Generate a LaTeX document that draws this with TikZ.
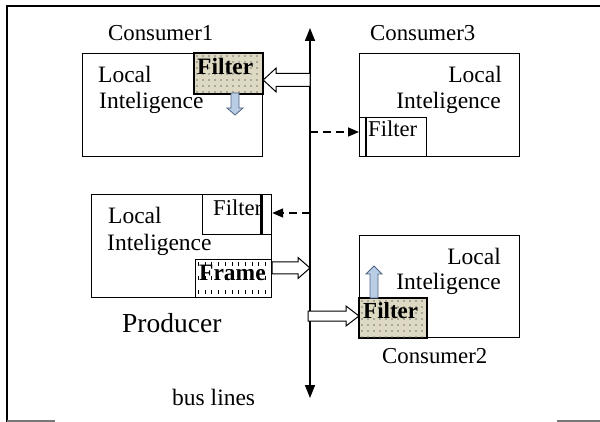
\documentclass[tikz,border=0pt]{standalone}
\usepackage{fontspec}
\setmainfont{Liberation Serif}
\usetikzlibrary{arrows.meta,calc}
\definecolor{filtertan}{RGB}{221,217,195}
\definecolor{dotgray}{RGB}{120,118,110}
\definecolor{flowblue}{RGB}{185,205,229}
\definecolor{flowedge}{RGB}{80,100,130}
\definecolor{edgegray}{RGB}{120,120,120}

\tikzset{
  box/.style={draw=black, line width=1.2pt, fill=white, inner sep=0pt, anchor=north west},
  txt/.style={inner sep=0pt, font=\fontsize{23.5}{26}\selectfont},
  smalltxt/.style={inner sep=0pt, font=\fontsize{22.6}{26}\selectfont},
  bigtxt/.style={inner sep=0pt, font=\fontsize{27.5}{30}\selectfont},
  bus/.style={line width=1.5pt, {Triangle[width=10pt,length=13pt]}-{Triangle[width=10pt,length=13pt]}},
  dasharrow/.style={line width=1.5pt, dash pattern=on 8pt off 5pt, -{Triangle[width=9pt,length=11pt]}},
  whiteflow/.style={draw=black, fill=white, line width=1pt, line join=miter},
  blueflow/.style={draw=flowedge, fill=flowblue, line width=0.8pt, line join=miter},
}

% horizontal block arrow: tail, tip, shaft half width, head half width, head length
\newcommand\hblock[6][]{%
  \draw[#1] let \p1=(#2), \p2=(#3), \n1={(\x2-\x1)/abs(\x2-\x1)} in
    (\x1,{\y1+#4pt}) -- ({\x2-\n1*#6pt},{\y1+#4pt}) -- ({\x2-\n1*#6pt},{\y1+#5pt})
    -- (\x2,\y1) -- ({\x2-\n1*#6pt},{\y1-#5pt}) -- ({\x2-\n1*#6pt},{\y1-#4pt})
    -- (\x1,{\y1-#4pt}) -- cycle;}
% vertical block arrow: tail, tip, shaft half width, head half width, head length
\newcommand\vblock[6][]{%
  \draw[#1] let \p1=(#2), \p2=(#3), \n1={(\y2-\y1)/abs(\y2-\y1)} in
    ({\x1+#4pt},\y1) -- ({\x1+#4pt},{\y2-\n1*#6pt}) -- ({\x1+#5pt},{\y2-\n1*#6pt})
    -- (\x1,\y2) -- ({\x1-#5pt},{\y2-\n1*#6pt}) -- ({\x1-#4pt},{\y2-\n1*#6pt})
    -- ({\x1-#4pt},\y1) -- cycle;}

\begin{document}
\begin{tikzpicture}[x=1pt,y=-1pt]
\useasboundingbox (0,0) rectangle (600,422);

% page frame
\draw[line width=2pt] (600,6) -- (7,6) -- (7,422);
\draw[edgegray, line width=1.5pt] (7,421) -- (55,421);
\draw[edgegray, line width=1.5pt] (557,421) -- (600,421);

% bus
\coordinate (busTop) at (310,28);
\coordinate (busBot) at (310,398);
\draw[bus] (busBot) -- (busTop);
\node[txt, anchor=base west] (buslbl) at (172,405) {bus lines};

% ---------- Consumer1 ----------
\node[box, minimum width=180pt, minimum height=103pt] (c1) at (82,53) {};
\node[box, fill=filtertan, minimum width=68pt, minimum height=40pt] (f1) at (194,53) {};
\begin{scope}
  \clip ($(f1.north west)+(1,1)$) rectangle ($(f1.south east)+(-1,-1)$);
  \foreach \i in {0,...,11} \foreach \j in {0,...,6}
    \fill[dotgray] ($(f1.north west)+(3+6*\i,3+6*\j)$) circle (0.8pt);
\end{scope}
\draw[line width=1.2pt] (f1.north west) rectangle (f1.south east);
\node[txt, anchor=base west, font=\fontsize{23.5}{26}\selectfont\bfseries] (f1t) at (197,75) {Filter};
\node[txt, anchor=base west] (c1l1) at (98,83) {Local};
\node[txt, anchor=base west] (c1l2) at (99,109) {Inteligence};
\node[txt, anchor=base west, font=\fontsize{22.8}{26}\selectfont] (c1n) at (108,41) {Consumer1};
\coordinate (t1) at (310,80);
\hblock[whiteflow]{t1}{t1 -| f1.east}{6.5}{12}{13}
\coordinate (d1) at (235,93);
\coordinate (d1e) at (235,115);
\vblock[blueflow]{d1}{d1e}{4}{8}{7}

% ---------- Consumer3 ----------
\node[box, minimum width=160pt, minimum height=103pt] (c3) at (359,53) {};
\node[box, minimum width=67pt, minimum height=39pt] (f3) at (359,117) {};
\draw[line width=2pt] (366,117) -- (366,156);
\node[smalltxt, anchor=base west] (f3t) at (368,137) {Filter};
\node[txt, anchor=base east] (c3l1) at (502,83) {Local};
\node[txt, anchor=base east] (c3l2) at (501,109) {Inteligence};
\node[txt, anchor=base west, font=\fontsize{22.8}{26}\selectfont] (c3n) at (370,41) {Consumer3};
\coordinate (t3) at (310,132);
\draw[dasharrow] (t3) -- (t3 -| f3.west);

% ---------- Producer ----------
\node[box, minimum width=180pt, minimum height=103pt] (pr) at (91,194) {};
\node[box, minimum width=69pt, minimum height=40pt] (pf) at (202,194) {};
\draw[line width=3pt] (261,194) -- (261,234);
\node[smalltxt, anchor=base west] (pft) at (213,216) {Filter};
\node[box, minimum width=76pt, minimum height=38pt] (fr) at (195,259) {};
\begin{scope}
  \clip ($(fr.north west)+(1,1)$) rectangle ($(fr.south east)+(-1,-1)$);
  \foreach \k in {0,...,11} \foreach \r in {3,17,31}
    \draw[line width=0.9pt] ($(fr.north west)+(3.5+6.7*\k,\r)$) -- ++(0,4.5);
\end{scope}
\node[txt, anchor=base west, font=\fontsize{23.5}{26}\selectfont\bfseries] (frt) at (199,280) {Frame};
\node[txt, anchor=base west] (prl1) at (108,224) {Local};
\node[txt, anchor=base west] (prl2) at (107,251) {Inteligence};
\node[bigtxt, anchor=base west] (prn) at (122,332) {Producer};
\coordinate (t4) at (310,213);
\draw[dasharrow] (t4) -- (t4 -| pf.east);
\coordinate (t5) at (310,268);
\hblock[whiteflow]{t5 -| fr.east}{t5}{6}{10.5}{12}

% ---------- Consumer2 ----------
\node[box, minimum width=160pt, minimum height=102pt] (c2) at (359,235) {};
\node[box, fill=filtertan, minimum width=67pt, minimum height=39pt] (f2) at (359,298) {};
\begin{scope}
  \clip ($(f2.north west)+(1,1)$) rectangle ($(f2.south east)+(-1,-1)$);
  \foreach \i in {0,...,11} \foreach \j in {0,...,6}
    \fill[dotgray] ($(f2.north west)+(3+6*\i,3+6*\j)$) circle (0.8pt);
\end{scope}
\draw[line width=1.2pt] (f2.north west) rectangle (f2.south east);
\node[txt, anchor=base west, font=\fontsize{23}{26}\selectfont\bfseries] (f2t) at (363,318) {Filter};
\node[txt, anchor=base east] (c2l1) at (501,265) {Local};
\node[txt, anchor=base east] (c2l2) at (501,290) {Inteligence};
\node[txt, anchor=base west, font=\fontsize{22.8}{26}\selectfont] (c2n) at (382,363) {Consumer2};
\coordinate (t2) at (308,316);
\hblock[whiteflow]{t2}{t2 -| f2.west}{5}{10}{13}
\coordinate (u2) at (374,298);
\coordinate (u2e) at (374,266);
\vblock[blueflow]{u2}{u2e}{4}{8}{8}
\end{tikzpicture}
\end{document}
